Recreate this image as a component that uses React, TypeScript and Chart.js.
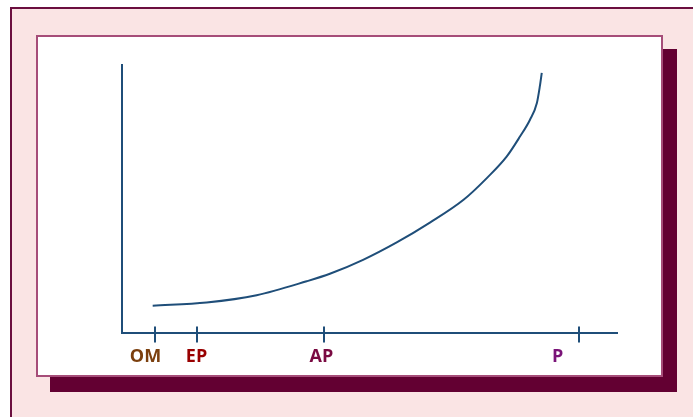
import React, { useEffect, useRef } from "react";
import { Chart, registerables } from "chart.js";

Chart.register(...registerables);

// Curve (x: quantity units 0..100, y: 0..100)
const curveX = [6.2, 17.1, 27.2, 37.3, 42.0, 48.7, 55.5, 62.2, 69.0, 73.7, 77.7, 80.4, 82.4, 83.8, 84.4, 84.8];
const curveY = [10.2, 11.4, 14.1, 19.3, 22.1, 27.3, 33.8, 41.2, 49.7, 57.8, 65.8, 73.3, 79.5, 85.7, 91.9, 97.1];

// Axis marks and labels
const tickLabels = ["OM", "EP", "AP", "P"];
const tickMarkValues = [6.6, 15.15, 40.85, 92.4];
const tickLabelValues = [4.75, 15.05, 40.3, 88.0];
const tickLabelColors = ["#7B3F0E", "#990000", "#7A0A42", "#7A1478"];

const AXIS_COLOR = "#1F4E79";

const tickMarksPlugin = {
  id: "tickMarks",
  afterDraw(chart: any) {
    const x = chart.scales.x;
    const y0 = chart.chartArea.bottom;
    const ctx = chart.ctx;
    ctx.save();
    ctx.strokeStyle = AXIS_COLOR;
    ctx.lineWidth = 2;
    tickMarkValues.forEach((v) => {
      const px = Math.round(x.getPixelForValue(v));
      ctx.beginPath();
      ctx.moveTo(px, y0 - 6.5);
      ctx.lineTo(px, y0 + 9.5);
      ctx.stroke();
    });
    ctx.restore();
  },
};

function CurveChart() {
  const ref = useRef<HTMLCanvasElement | null>(null);
  useEffect(() => {
    if (!ref.current) return;
    const chart = new Chart(ref.current, {
      type: "line",
      data: {
        datasets: [
          {
            data: curveX.map((x, i) => ({ x, y: curveY[i] })),
            borderColor: AXIS_COLOR,
            borderWidth: 2,
            pointRadius: 0,
            cubicInterpolationMode: "monotone",
            fill: false,
          },
        ],
      },
      options: {
        responsive: false,
        animation: false,
        events: [],
        layout: { padding: { left: 122, right: 76, top: 65, bottom: 44 } },
        plugins: { legend: { display: false }, tooltip: { enabled: false }, title: { display: false } },
        scales: {
          x: {
            type: "linear",
            position: "bottom",
            min: 0,
            max: 100,
            grid: { display: false, drawTicks: false },
            border: { display: true, color: AXIS_COLOR, width: 2 },
            afterBuildTicks: (scale: any) => {
              scale.ticks = tickLabelValues.map((v) => ({ value: v }));
            },
            afterFit: (scale: any) => {
              scale.height = 40;
            },
            ticks: {
              autoSkip: false,
              maxRotation: 0,
              padding: 13,
              font: { family: "'Open Sans', sans-serif", size: 18, weight: "bold" },
              color: (c: any) => tickLabelColors[c.index] || AXIS_COLOR,
              callback: (_v: any, i: number) => tickLabels[i],
            },
          },
          y: {
            type: "linear",
            position: "left",
            min: 0,
            max: 100,
            grid: { display: false, drawTicks: false },
            border: { display: true, color: AXIS_COLOR, width: 2 },
            ticks: { display: false },
            afterFit: (scale: any) => {
              scale.width = 0;
            },
          },
        },
      },
      plugins: [tickMarksPlugin],
    } as any);
    return () => chart.destroy();
  }, []);
  return (
    <canvas
      ref={ref}
      width={693}
      height={417}
      style={{ position: "absolute", left: 0, top: 0, width: 693, height: 417 }}
    />
  );
}

export default function App() {
  return (
    <div
      style={{
        position: "fixed",
        left: 0,
        top: 0,
        width: 693,
        height: 417,
        overflow: "hidden",
        background: "#ffffff",
      }}
    >
      <div
        style={{
          position: "absolute",
          left: 10,
          top: 7,
          width: 720,
          height: 440,
          boxSizing: "border-box",
          border: "2px solid #6B0F3F",
          background: "#FAE4E4",
        }}
      />
      <div
        style={{
          position: "absolute",
          left: 50,
          top: 49,
          width: 627,
          height: 343,
          background: "#630032",
        }}
      />
      <div
        style={{
          position: "absolute",
          left: 36,
          top: 35,
          width: 627,
          height: 342,
          boxSizing: "border-box",
          border: "2px solid #A64D79",
          background: "#ffffff",
        }}
      />
      <CurveChart />
    </div>
  );
}
